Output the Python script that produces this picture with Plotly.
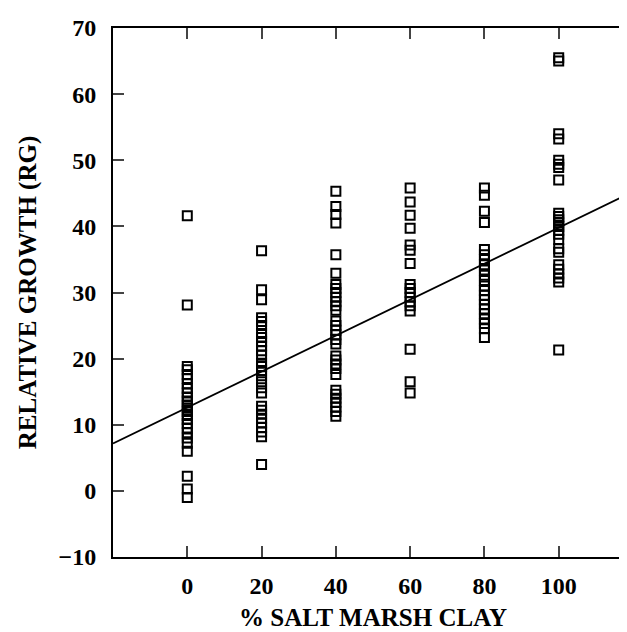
import plotly.graph_objects as go
import numpy as np

clay_levels = [0, 20, 40, 60, 80, 100]

rg_0 = [41.6, 28.1, 18.8, 18.3, 17.6, 17.0, 16.2, 15.5, 14.8, 14.2, 13.6, 13.0, 12.5,
        12.0, 11.4, 10.8, 10.2, 9.5, 8.8, 8.0, 7.2, 6.0, 2.2, 0.3, -1.0]
rg_20 = [36.3, 30.4, 28.9, 26.2, 25.6, 25.0, 23.8, 23.2, 22.6, 21.9, 21.2, 20.5, 19.3,
         18.8, 18.2, 17.4, 16.5, 15.6, 14.8, 12.8, 12.2, 11.6, 11.0, 10.3, 9.6, 8.9, 8.2, 4.0]
rg_40 = [45.3, 43.0, 41.8, 40.5, 35.7, 32.9, 31.2, 30.6, 30.0, 29.3, 28.6, 28.0, 27.3,
         25.7, 25.0, 24.3, 23.6, 22.9, 22.2, 20.4, 19.8, 19.2, 18.5, 17.6, 15.2, 14.6,
         14.0, 13.4, 12.7, 12.0, 11.3]
rg_60 = [45.8, 43.7, 41.7, 39.7, 37.2, 36.4, 34.4, 31.2, 30.6, 30.0, 29.3, 28.6, 28.0,
         27.2, 21.4, 16.5, 14.8]
rg_80 = [45.8, 44.7, 42.3, 40.6, 36.5, 35.7, 35.0, 34.2, 33.4, 32.6, 31.8, 31.0, 30.3,
         29.6, 28.9, 28.2, 27.5, 26.8, 26.0, 25.3, 24.5, 23.2]
rg_100 = [65.5, 65.0, 54.0, 53.2, 50.0, 49.4, 48.9, 47.0, 42.0, 41.5, 41.0, 40.5, 40.0,
          39.4, 38.8, 38.0, 36.6, 36.1, 34.2, 33.5, 32.8, 32.2, 31.6, 21.3]

fit_intercept = 12.6
fit_slope = 0.272

x_ticks = [0, 20, 40, 60, 80, 100]
y_ticks = [-10, 0, 10, 20, 30, 40, 50, 60, 70]
x_range = [-20, 120]
y_range = [-10, 70]

groups = [rg_0, rg_20, rg_40, rg_60, rg_80, rg_100]
xs, ys = [], []
for lvl, vals in zip(clay_levels, groups):
    xs += [lvl] * len(vals)
    ys += vals

fig = go.Figure()
fig.add_trace(go.Scatter(
    x=xs, y=ys, mode="markers",
    marker=dict(symbol="square-open", size=9, color="black", line=dict(width=2, color="black")),
    showlegend=False, cliponaxis=False))

line_x = np.array(x_range, dtype=float)
fig.add_trace(go.Scatter(
    x=line_x, y=fit_intercept + fit_slope * line_x, mode="lines",
    line=dict(color="black", width=1.8), showlegend=False))

font_family = "Liberation Serif"
tick_font = dict(family=font_family, size=24, color="black", weight="bold")
title_font = dict(family=font_family, size=25, color="black", weight="bold")
fig.update_layout(
    width=627, height=632,
    margin=dict(l=105, r=2, t=20, b=83),
    paper_bgcolor="white", plot_bgcolor="white",
    font=dict(family=font_family, color="black"),
    xaxis=dict(range=x_range, tickvals=x_ticks, ticks="inside", ticklen=11, tickwidth=1.8,
               showline=True, linecolor="black", linewidth=1.8, mirror="ticks",
               showgrid=False, zeroline=False, tickfont=tick_font, automargin=False,
               ticklabelstandoff=6,
               title=dict(text="% SALT MARSH CLAY", standoff=11, font=title_font)),
    yaxis=dict(range=y_range, tickvals=y_ticks, ticks="inside", ticklen=11, tickwidth=1.8,
               showline=True, linecolor="black", linewidth=1.8, mirror="ticks",
               showgrid=False, zeroline=False, tickfont=tick_font, automargin=False,
               ticklabelstandoff=10,
               title=dict(text="RELATIVE GROWTH (RG)", standoff=15, font=title_font)),
)

fig.write_html("out.html")
